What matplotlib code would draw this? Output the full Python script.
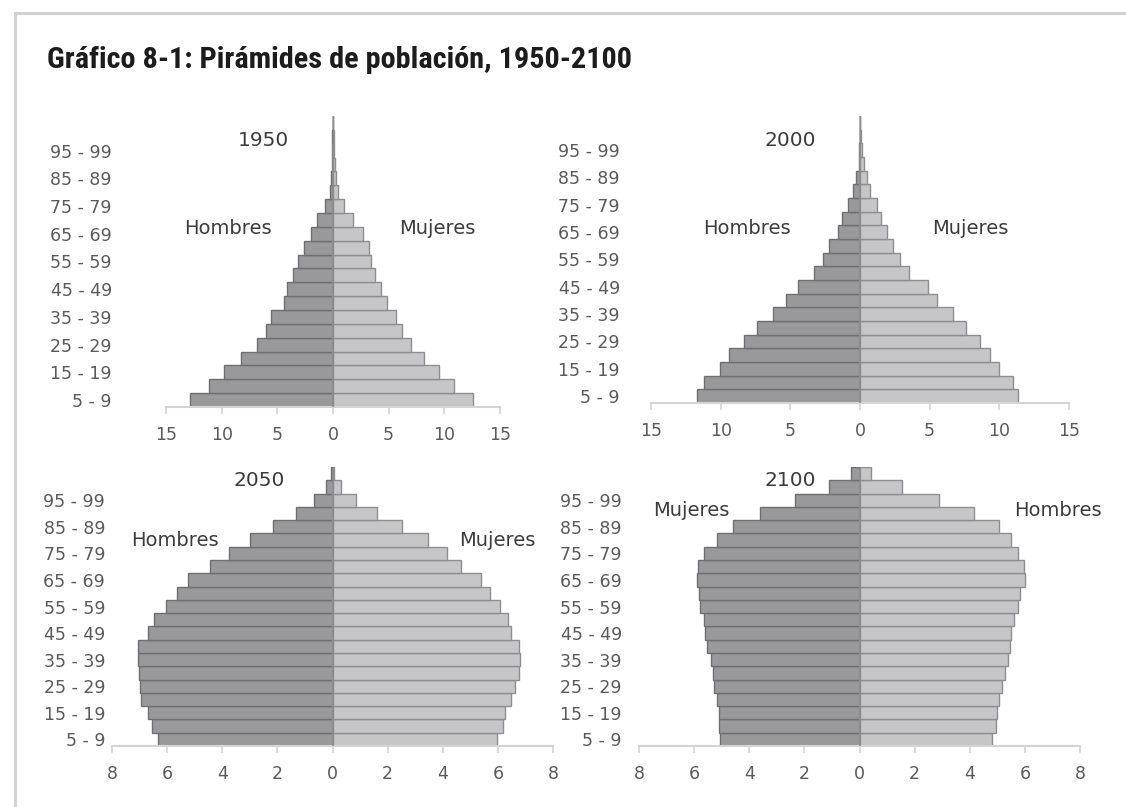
import matplotlib
matplotlib.use("Agg")
import matplotlib.pyplot as plt
from matplotlib.lines import Line2D
from matplotlib.ticker import FuncFormatter

W, H = 1126, 807

# age groups: 21 bars (0-4 ... 100+), every other one labelled
age_labels = ["5 - 9", "15 - 19", "25 - 29", "35 - 39", "45 - 49",
              "55 - 59", "65 - 69", "75 - 79", "85 - 89", "95 - 99"]

# values in % of population, from youngest bar to oldest bar
left_1950 = [12.8, 11.1, 9.75, 8.3, 6.85, 6.05, 5.55, 4.4, 4.1, 3.6, 3.17,
             2.56, 1.95, 1.4, 0.73, 0.3, 0.18, 0.12, 0.09, 0.06, 0.02]
right_1950 = [12.6, 10.9, 9.52, 8.15, 7.02, 6.16, 5.65, 4.88, 4.27, 3.75, 3.45,
              3.2, 2.69, 1.77, 0.98, 0.46, 0.25, 0.15, 0.09, 0.06, 0.02]

left_2000 = [11.68, 11.2, 10.05, 9.43, 8.29, 7.38, 6.27, 5.31, 4.46, 3.29, 2.64,
             2.2, 1.55, 1.3, 0.83, 0.47, 0.26, 0.1, 0.05, 0.02, 0.01]
right_2000 = [11.35, 11.0, 10.0, 9.33, 8.6, 7.64, 6.68, 5.52, 4.87, 3.5, 2.85,
              2.38, 1.94, 1.5, 1.19, 0.73, 0.47, 0.26, 0.13, 0.05, 0.02]

left_2050 = [6.32, 6.55, 6.68, 6.96, 7.0, 7.02, 7.05, 7.06, 6.71, 6.46, 6.04,
             5.64, 5.23, 4.45, 3.74, 2.98, 2.16, 1.34, 0.66, 0.23, 0.05]
right_2050 = [5.96, 6.18, 6.27, 6.46, 6.61, 6.77, 6.8, 6.75, 6.46, 6.37, 6.06,
              5.71, 5.39, 4.68, 4.14, 3.47, 2.53, 1.63, 0.84, 0.31, 0.06]

left_2100 = [5.05, 5.11, 5.11, 5.18, 5.27, 5.31, 5.4, 5.53, 5.61, 5.64, 5.77,
             5.84, 5.9, 5.86, 5.64, 5.18, 4.59, 3.61, 2.33, 1.11, 0.3]
right_2100 = [4.8, 4.96, 4.98, 5.05, 5.18, 5.27, 5.38, 5.46, 5.51, 5.59, 5.74,
              5.84, 5.99, 5.97, 5.74, 5.51, 5.05, 4.17, 2.89, 1.55, 0.42]

panels = [
    # year, left, right, left text, right text, x limit, x ticks step
    ("1950", left_1950, right_1950, "Hombres", "Mujeres", 15, 5),
    ("2000", left_2000, right_2000, "Hombres", "Mujeres", 15, 5),
    ("2050", left_2050, right_2050, "Hombres", "Mujeres", 8, 2),
    ("2100", left_2100, right_2100, "Mujeres", "Hombres", 8, 2),
]

# pixel boxes (left, right, bottom, top), label pad, text positions
boxes = [(166, 500, 407, 116), (651, 1069, 403, 116),
         (112, 553, 746, 467), (639, 1080, 746, 467)]
label_gap = [54, 31, 7, 17]
year_pos = [(263, 141), (790, 141), (259, 480), (790, 480)]
side_pos = [((228, 228), (437, 228)), ((747, 228), (970, 228)),
            ((175, 541), (497, 541)), ((691, 511), (1058, 511))]

left_fill, left_edge = "#99999c", "#6f6f72"
right_fill, right_edge = "#c6c6c8", "#8e8e90"
tick_col = "#5a5a5a"
text_col = "#3c3c3c"

fig = plt.figure(figsize=(W / 100, H / 100), dpi=100)


def fx(x):
    return x / W


def fy(y):
    return 1 - y / H


# frame of the page box
fig.add_artist(Line2D([fx(15), fx(15)], [fy(13), 0], color="#d2d2d2", lw=2.2))
fig.add_artist(Line2D([fx(15), 1], [fy(13), fy(13)], color="#d2d2d2", lw=2.2))

fig.text(fx(47), fy(60), "Gráfico 8-1: Pirámides de población, 1950-2100",
         family=["Roboto Condensed", "Roboto", "DejaVu Sans"], fontweight="bold",
         fontsize=21.8, color="#1c1c1c", va="center", ha="left")

for i, (year, left, right, ltxt, rtxt, lim, step) in enumerate(panels):
    l, r, b, t = boxes[i]
    ax = fig.add_axes([fx(l), fy(b), (r - l) / W, (b - t) / H])
    pos = list(range(len(left)))
    ax.barh(pos, [-v for v in left], height=1.0, color=left_fill,
            edgecolor=left_edge, linewidth=1.0, zorder=2)
    ax.barh(pos, right, height=1.0, color=right_fill,
            edgecolor=right_edge, linewidth=1.0, zorder=2)
    ax.axvline(0, color="#c8c8c8", lw=1.5, zorder=1)
    ax.axvline(0, ymax=len(left) / 21 * 0.9, color="#8c8c8c", lw=1.2, zorder=3)

    ax.set_xlim(-lim, lim)
    ax.set_ylim(-0.5, len(left) - 0.5)
    ax.set_xticks(range(-lim, lim + 1, step))
    ax.xaxis.set_major_formatter(FuncFormatter(lambda v, p: f"{abs(v):.0f}"))
    ax.set_yticks(range(0, 2 * len(age_labels), 2))
    ax.set_yticklabels(age_labels)

    for s in ["top", "right", "left"]:
        ax.spines[s].set_visible(False)
    ax.spines["bottom"].set_color("#d4d4d4")
    ax.spines["bottom"].set_linewidth(1.5)
    ax.tick_params(axis="x", colors="#d4d4d4", length=5, width=1.2,
                   labelcolor=tick_col, labelsize=12.5, pad=9)
    ax.tick_params(axis="y", length=0, labelcolor=tick_col, labelsize=12.5,
                   pad=label_gap[i] * 0.72)
    ax.set_facecolor("none")

    yx, yy = year_pos[i]
    fig.text(fx(yx), fy(yy), year, fontsize=14.5, color=text_col,
             ha="center", va="center")
    (lx, ly), (rx, ry) = side_pos[i]
    fig.text(fx(lx), fy(ly), ltxt, fontsize=14, color=text_col,
             ha="center", va="center")
    fig.text(fx(rx), fy(ry), rtxt, fontsize=14, color=text_col,
             ha="center", va="center")

fig.savefig("out.png", dpi=100, facecolor="white")
